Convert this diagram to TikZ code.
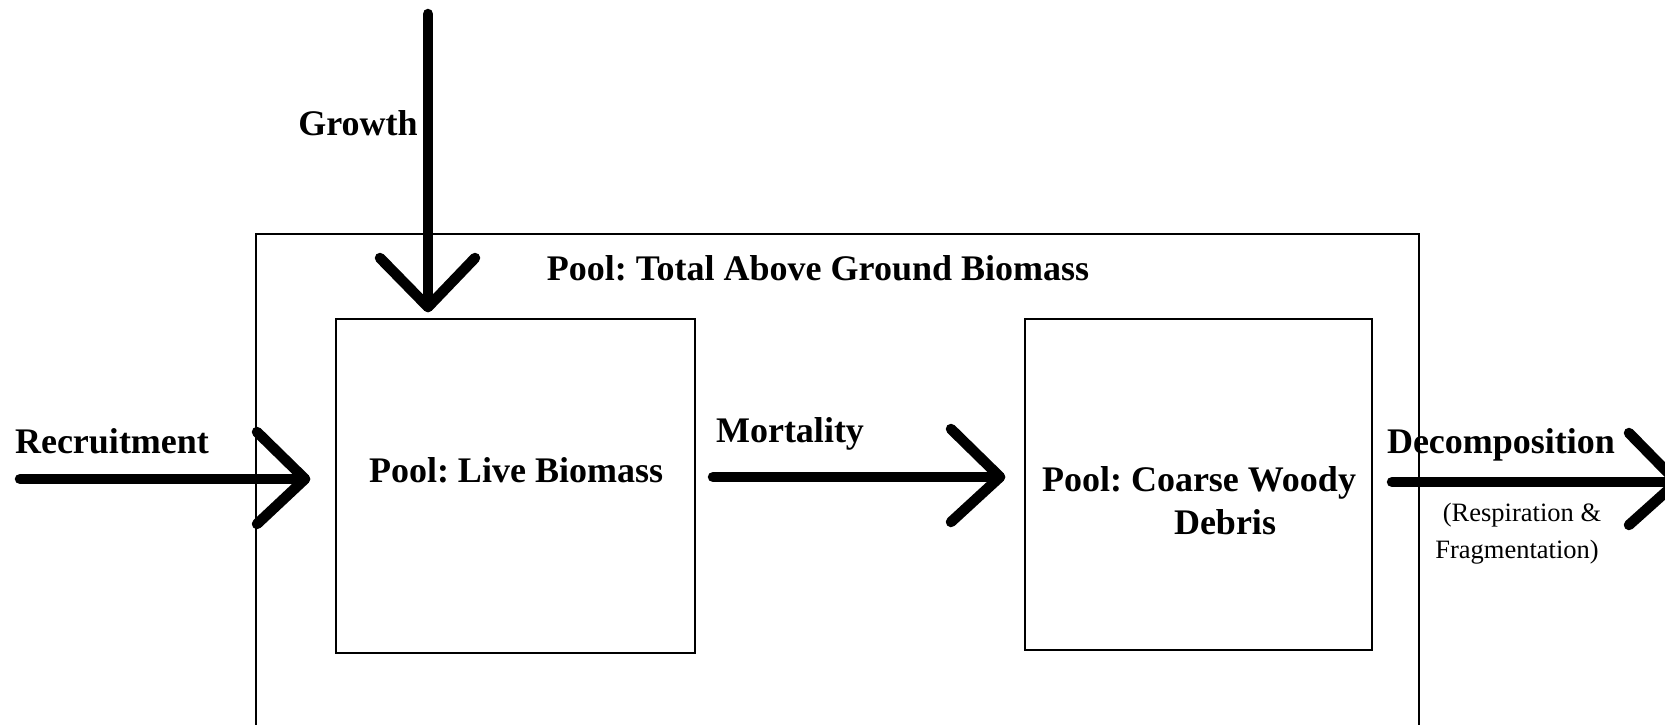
\documentclass[tikz,border=0pt]{standalone}
\usepackage{fontspec}
\setmainfont{Liberation Serif}
\usetikzlibrary{calc}
\begin{document}
\frenchspacing
\begin{tikzpicture}[x=1pt,y=-1pt,
  box/.style={draw, line width=2pt, inner sep=0pt},
  flow/.style={line width=10.5pt, line cap=round, line join=round},
  lbl/.style={font=\fontsize{36}{42}\selectfont\bfseries, inner sep=0pt, anchor=base},
  sub/.style={font=\fontsize{26.5}{31}\selectfont, inner sep=0pt, anchor=base}]
\clip (0,0) rectangle (1665,725);
\fill[white] (0,0) rectangle (1665,725);
% outer pool
\draw[box] (256,740) -- (256,234) -- (1419,234) -- (1419,740);
\node[lbl] (title) at (818,280) {Pool: Total Above Ground Biomass};
% inner pools
\node[box, minimum width=359pt, minimum height=334pt] (live) at (515.5,486) {};
\node[lbl] (livelbl) at (516,482) {Pool: Live Biomass};
\node[box, minimum width=347pt, minimum height=331pt] (cwd) at (1198.5,484.5) {};
\node[lbl] (cwdlbl) at (1199,491) {Pool: Coarse Woody};
\node[lbl] (cwdlbl2) at (1225,534) {Debris};
% growth
\coordinate (gS) at (428,14);
\coordinate (gT) at (428,307);
\draw[flow] (gS) -- (gT);
\draw[flow] ($(gT)+(-48,-49)$) -- (gT) -- ($(gT)+(47,-49)$);
\node[lbl] (glbl) at (358,135) {Growth};
% recruitment
\coordinate (rS) at (20,479);
\coordinate (rT) at (305,479);
\draw[flow] (rS) -- (rT);
\draw[flow] ($(rT)+(-48,-47)$) -- (rT) -- ($(rT)+(-48,45)$);
\node[lbl] (rlbl) at (112,453) {Recruitment};
% mortality
\coordinate (mS) at (713,477);
\coordinate (mT) at (1000,477);
\draw[flow] (mS) -- (mT);
\draw[flow] ($(mT)+(-49,-48)$) -- (mT) -- ($(mT)+(-49,45)$);
\node[lbl] (mlbl) at (790,442) {Mortality};
% decomposition
\coordinate (dS) at (1392,482);
\coordinate (dT) at (1677,482);
\draw[flow] (dS) -- (dT);
\draw[flow] ($(dT)+(-48,-49)$) -- (dT) -- ($(dT)+(-48,43)$);
\node[lbl] (dlbl) at (1501,453) {Decomposition};
\node[sub] (dsub1) at (1522,521) {(Respiration \&};
\node[sub] (dsub2) at (1517,558) {Fragmentation)};
\end{tikzpicture}
\end{document}
